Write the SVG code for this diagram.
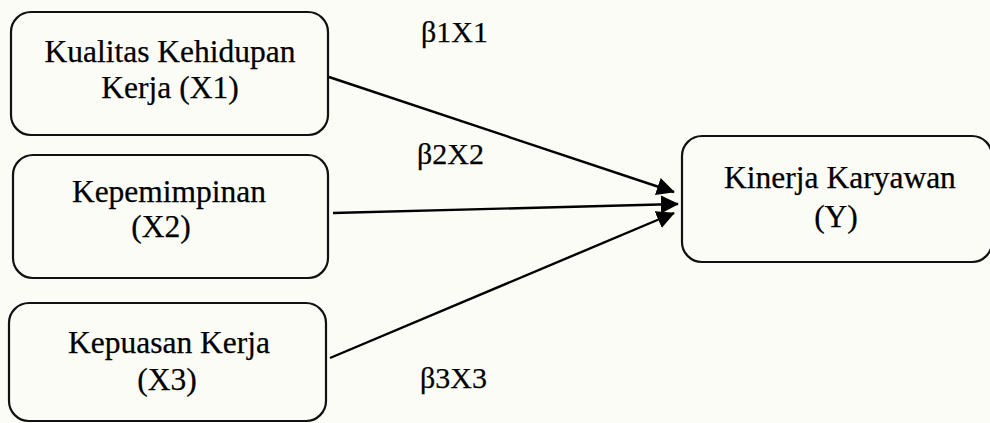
<svg xmlns="http://www.w3.org/2000/svg" width="990" height="423" viewBox="0 0 990 423">
  <style>
    .box { fill: none; stroke: #111; stroke-width: 2.2; }
    .lbl { font-family: "Liberation Serif", "Times New Roman", serif; font-size: 31.5px; fill: #000; stroke: #000; stroke-width: 0.25; text-anchor: middle; }
    .coef { font-family: "Liberation Serif", "Times New Roman", serif; font-size: 30px; fill: #000; stroke: #000; stroke-width: 0.25; }
    .edge { stroke: #000; stroke-width: 2.4; fill: none; marker-end: url(#head); }
  </style>
  <defs>
    <!-- filled triangular arrowhead shared by every connector -->
    <marker id="head" viewBox="0 0 10 10" refX="9.5" refY="5" markerWidth="7.5" markerHeight="7.5" orient="auto" markerUnits="strokeWidth">
      <path d="M0,0 L10,5 L0,10 Z" fill="#000"/>
    </marker>
  </defs>
  <rect width="990" height="423" fill="#fcfcf7"/>

  <g id="x1">
    <rect class="box" x="11" y="12" width="317" height="123" rx="20" ry="20"/>
    <text class="lbl" x="170" y="62">Kualitas Kehidupan</text>
    <text class="lbl" x="170" y="98">Kerja (X1)</text>
  </g>

  <g id="x2">
    <rect class="box" x="13" y="155" width="315" height="123" rx="20" ry="20"/>
    <text class="lbl" x="169" y="202">Kepemimpinan</text>
    <text class="lbl" x="161" y="237">(X2)</text>
  </g>

  <g id="x3">
    <rect class="box" x="9" y="303" width="317" height="118" rx="20" ry="20"/>
    <text class="lbl" x="169" y="353">Kepuasan Kerja</text>
    <text class="lbl" x="167" y="390">(X3)</text>
  </g>

  <g id="y">
    <rect class="box" x="682" y="136" width="310" height="126" rx="20" ry="20"/>
    <text class="lbl" x="840" y="188">Kinerja Karyawan</text>
    <text class="lbl" x="836" y="227">(Y)</text>
  </g>

  <g id="connectors">
    <line class="edge" x1="329" y1="77" x2="674" y2="192"/>
    <line class="edge" x1="333" y1="213" x2="678" y2="204"/>
    <line class="edge" x1="330" y1="358" x2="674" y2="213"/>
    <text class="coef" x="421" y="42">β1X1</text>
    <text class="coef" x="417" y="164">β2X2</text>
    <text class="coef" x="420" y="388">β3X3</text>
  </g>
</svg>
